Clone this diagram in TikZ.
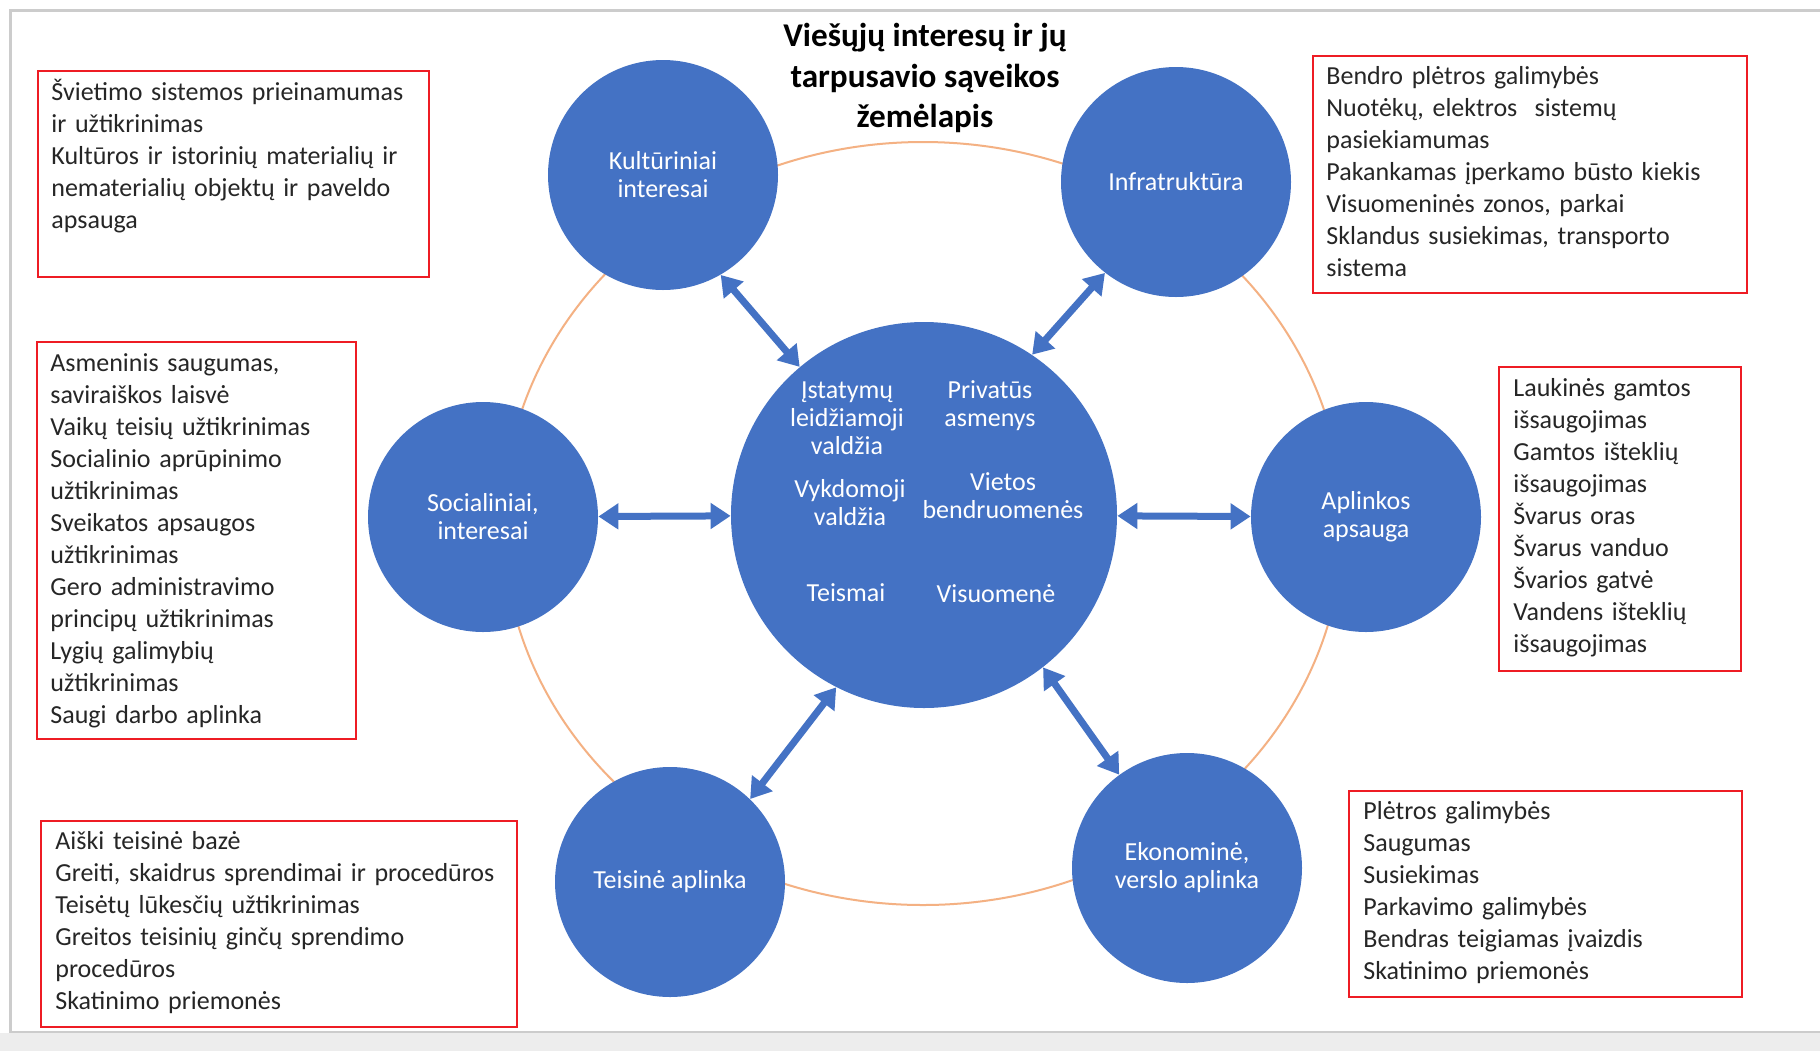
\documentclass[tikz,border=0pt]{standalone}
\usepackage{fontspec}
\setmainfont{Carlito}
\usepackage{xcolor}
\definecolor{colNode}{HTML}{4472C4}
\definecolor{colRing}{HTML}{F4B183}
\definecolor{colBox}{HTML}{EE1C24}
\colorlet{colFrame}{black!20}
\colorlet{colBack}{black!7}
\usepackage{tikz}
\usetikzlibrary{arrows.meta, positioning}

\begin{document}
\begin{tikzpicture}[x=0.5pt, y=-0.5pt,
		interest/.style={circle, fill=colNode, text=white, minimum size=115pt, inner sep=0pt, align=center, font=\fontsize{13}{14}\selectfont},
		hub/.style={circle, fill=colNode, minimum size=193pt, inner sep=0pt},
		actor/.style={text=white, align=center, inner sep=0pt, font=\fontsize{13}{14}\selectfont},
		listbox/.style={draw=colBox, line width=1pt},
		listtext/.style={anchor=north west, inner sep=0pt, text width=240pt, align=left, text=black!85, font=\fontsize{13}{16}\selectfont, execute at begin node=\strut},
		link/.style={colNode, line width=3.5pt, {Triangle[length=10pt,width=12.5pt]}-{Triangle[length=10pt,width=12.5pt]}}]
	\useasboundingbox (0,0) rectangle (1820,1051);
	\fill[white] (0,0) rectangle (1820,1051);
	\fill[colBack] (0,1033) rectangle (1820,1051);
	\draw[colFrame, line width=1.2pt] (1820,10.5) -- (10.5,10.5) -- (10.5,1032) -- (1820,1032);

	\draw[colRing, line width=1pt] (923,523.5) ellipse [x radius=210pt, y radius=190.75pt];

	\node[font=\bfseries\fontsize{16.6}{20.3}\selectfont, align=center] (title) at (925,78) {Viešųjų interesų ir jų\\tarpusavio sąveikos\\žemėlapis};

	\node[hub] (hub) at (924,515) {};
	\node[interest] (kult) at (663,175) {Kultūriniai\\interesai};
	\node[interest] (infra) at (1176,182) {Infratruktūra};
	\node[interest] (soc) at (483,517) {Socialiniai,\\interesai};
	\node[interest] (env) at (1366,517) {Aplinkos\\apsauga};
	\node[interest] (law) at (670,882) {Teisinė aplinka};
	\node[interest] (econ) at (1187,868) {Ekonominė,\\verslo aplinka};

	\node[actor] (legis) at (847,418) {Įstatymų\\leidžiamoji\\valdžia};
	\node[actor] (priv) at (990,406) {Privatūs\\asmenys};
	\node[actor] (exec) at (850,503) {Vykdomoji\\valdžia};
	\node[actor] (local) at (1003,496) {Vietos\\bendruomenės};
	\node[actor] (court) at (846,593) {Teismai};
	\node[actor] (public) at (996,594) {Visuomenė};

	\draw[link] (kult.-60) -- (hub.130);
	\draw[link] (infra.-128) -- (hub.56);
	\draw[link] (soc) -- (hub);
	\draw[link] (env) -- (hub);
	\draw[link] (law.46) -- (hub.-117);
	\draw[link] (econ.126) -- (hub.-52);

	\draw[listbox] (38,71) rectangle (429,277);
	\node[listtext] (txtKult) at (51,77.6) {Švietimo sistemos prieinamumas\\ir užtikrinimas\\Kultūros ir istorinių materialių ir\\nematerialių objektų ir paveldo\\apsauga};
	\draw[listbox] (37,342) rectangle (356,739);
	\node[listtext] (txtSoc) at (50,348.6) {Asmeninis saugumas,\\saviraiškos laisvė\\Vaikų teisių užtikrinimas\\Socialinio aprūpinimo\\užtikrinimas\\Sveikatos apsaugos\\užtikrinimas\\Gero administravimo\\principų užtikrinimas\\Lygių galimybių\\užtikrinimas\\Saugi darbo aplinka};
	\draw[listbox] (41,821) rectangle (517,1027);
	\node[listtext] (txtLaw) at (55,826.6) {Aiški teisinė bazė\\Greiti, skaidrus sprendimai ir procedūros\\Teisėtų lūkesčių užtikrinimas\\Greitos teisinių ginčų sprendimo\\procedūros\\Skatinimo priemonės};
	\draw[listbox] (1313,56) rectangle (1747,293);
	\node[listtext] (txtInfra) at (1326,61.6) {Bendro plėtros galimybės\\Nuotėkų, elektros\ \ sistemų\\pasiekiamumas\\Pakankamas įperkamo būsto kiekis\\Visuomeninės zonos, parkai\\Sklandus susiekimas, transporto\\sistema};
	\draw[listbox] (1499,367) rectangle (1741,671);
	\node[listtext] (txtEnv) at (1513,373.6) {Laukinės gamtos\\išsaugojimas\\Gamtos išteklių\\išsaugojimas\\Švarus oras\\Švarus vanduo\\Švarios gatvė\\Vandens išteklių\\išsaugojimas};
	\draw[listbox] (1349,791) rectangle (1742,997);
	\node[listtext] (txtEcon) at (1363,796.6) {Plėtros galimybės\\Saugumas\\Susiekimas\\Parkavimo galimybės\\Bendras teigiamas įvaizdis\\Skatinimo priemonės};
\end{tikzpicture}
\end{document}
